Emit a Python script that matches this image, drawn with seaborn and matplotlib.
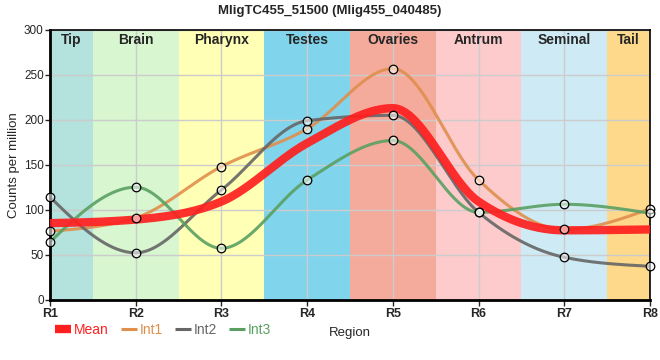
import numpy as np
import pandas as pd
import matplotlib
matplotlib.use('Agg')
import matplotlib.pyplot as plt
import seaborn as sns
from matplotlib.lines import Line2D
from matplotlib.transforms import blended_transform_factory

# 数据：每个区域的计数
regions = ['R1', 'R2', 'R3', 'R4', 'R5', 'R6', 'R7', 'R8']
mean_vals = [85, 89, 109, 174, 213, 109, 77, 78]
int1_vals = [76, 91, 148, 190, 257, 133, 78, 101]
int2_vals = [114, 52, 122, 199, 205, 97, 47, 37]
int3_vals = [64, 125, 57, 133, 177, 97, 106, 96]

band_names = ['Tip', 'Brain', 'Pharynx', 'Testes', 'Ovaries', 'Antrum', 'Seminal', 'Tail']
band_edges = [0, 0.5, 1.5, 2.5, 3.5, 4.5, 5.5, 6.5, 7]
band_colors = ['#b4e2dd', '#d8f6d0', '#ffffb5', '#80d4ec', '#f5ab9c',
               '#fdcbcc', '#ceebf5', '#fed98b']

colors = {'Mean': '#ff1f1f', 'Int1': '#df8f4c', 'Int2': '#666666', 'Int3': '#5aa062'}


def monotone_x(xs, ys, n=60):
    # 和 d3.curveMonotoneX 一样的单调三次插值
    xs = np.asarray(xs, float)
    ys = np.asarray(ys, float)
    h = np.diff(xs)
    s = np.diff(ys) / h
    t = np.zeros(len(xs))
    for i in range(1, len(xs) - 1):
        p = (s[i - 1] * h[i] + s[i] * h[i - 1]) / (h[i - 1] + h[i])
        t[i] = (np.sign(s[i - 1]) + np.sign(s[i])) * min(abs(s[i - 1]), abs(s[i]), 0.5 * abs(p))
    t[0] = (3 * s[0] - t[1]) / 2
    t[-1] = (3 * s[-1] - t[-2]) / 2
    out_x, out_y = [], []
    for i in range(len(xs) - 1):
        u = np.linspace(0, 1, n, endpoint=(i == len(xs) - 2))
        h00 = 2 * u**3 - 3 * u**2 + 1
        h10 = u**3 - 2 * u**2 + u
        h01 = -2 * u**3 + 3 * u**2
        h11 = u**3 - u**2
        out_x.append(xs[i] + u * h[i])
        out_y.append(h00 * ys[i] + h10 * h[i] * t[i] + h01 * ys[i + 1] + h11 * h[i] * t[i + 1])
    return np.concatenate(out_x), np.concatenate(out_y)


sns.set_style('white')
plt.rcParams['font.family'] = ['Liberation Sans', 'DejaVu Sans']

xpos = np.arange(len(regions))
series = {'Int1': int1_vals, 'Int2': int2_vals, 'Int3': int3_vals, 'Mean': mean_vals}

curves = []
for name, vals in series.items():
    cx, cy = monotone_x(xpos, vals)
    curves.append(pd.DataFrame({'x': cx, 'y': cy, 'series': name}))
curves = pd.concat(curves, ignore_index=True)

points = pd.concat([pd.DataFrame({'x': xpos, 'y': series[k], 'series': k})
                    for k in ['Int1', 'Int2', 'Int3']], ignore_index=True)

fig = plt.figure(figsize=(6.6, 3.6), dpi=100)
ax = fig.add_axes([50 / 660, 60.5 / 360, 600 / 660, 269.5 / 360])

for i, name in enumerate(band_names):
    ax.axvspan(band_edges[i], band_edges[i + 1], color=band_colors[i], zorder=0, lw=0)

trans = blended_transform_factory(ax.transData, ax.transAxes)
for i, name in enumerate(band_names):
    ax.text((band_edges[i] + band_edges[i + 1]) / 2, 0.962, name, transform=trans,
            ha='center', va='center', fontsize=10, fontweight='bold', zorder=5)

ax.grid(True, color='#cccccc', lw=1)
ax.set_axisbelow(True)
for gl in ax.get_xgridlines() + ax.get_ygridlines():
    gl.set_zorder(0.5)

ints = curves[curves['series'] != 'Mean']
sns.lineplot(data=ints, x='x', y='y', hue='series', palette=colors, sort=False,
             estimator=None, lw=2.2, alpha=0.9, legend=False, ax=ax, zorder=2)
sns.lineplot(data=curves[curves['series'] == 'Mean'], x='x', y='y', color=colors['Mean'],
             sort=False, estimator=None, lw=6, alpha=0.92, legend=False, ax=ax, zorder=3)
sns.scatterplot(data=points, x='x', y='y', s=38, facecolor=(1, 1, 1, 0.55),
                edgecolor='black', linewidth=0.9, legend=False, ax=ax, zorder=4, clip_on=False)

ax.set_xlim(0, 7)
ax.set_ylim(0, 300)
ax.set_xticks(xpos)
ax.set_xticklabels(regions, fontsize=9, fontweight='bold')
ax.set_yticks(np.arange(0, 301, 50))
ax.tick_params(axis='y', labelsize=8.5, length=3.5, width=1, direction='out', left=True, pad=1)
ax.tick_params(axis='x', length=4, width=1, direction='out', bottom=True, pad=2)
for side in ['left', 'bottom']:
    ax.spines[side].set_linewidth(2)
for side in ['top', 'right']:
    ax.spines[side].set_linewidth(1.2)
for sp in ax.spines.values():
    sp.set_color('black')

ax.set_xlabel('Region', fontsize=9.5, labelpad=5)
ax.set_ylabel('Counts per million', fontsize=9.5, labelpad=3)
fig.suptitle('MligTC455_51500 (Mlig455_040485)', fontsize=9.5, fontweight='bold', y=0.985)

handles = [Line2D([], [], color=colors['Mean'], lw=6, solid_capstyle='butt'),
           Line2D([], [], color=colors['Int1'], lw=2.2, solid_capstyle='butt'),
           Line2D([], [], color=colors['Int2'], lw=2.2, solid_capstyle='butt'),
           Line2D([], [], color=colors['Int3'], lw=2.2, solid_capstyle='butt')]
fig.legend(handles, ['Mean', 'Int1', 'Int2', 'Int3'], loc='center left',
           bbox_to_anchor=(55 / 660, 30 / 360), ncol=4, frameon=False, fontsize=10,
           handlelength=1.15, handletextpad=0.22, columnspacing=0.85,
           borderaxespad=0, borderpad=0, labelcolor='linecolor')

fig.savefig('out.png', dpi=100)
